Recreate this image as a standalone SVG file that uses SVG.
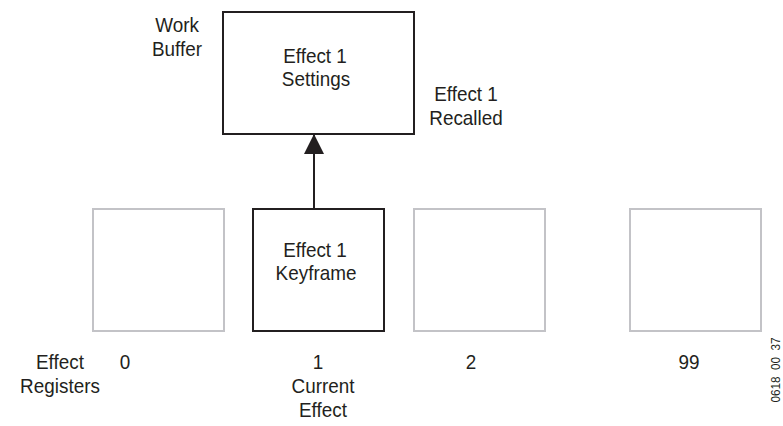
<svg xmlns="http://www.w3.org/2000/svg" width="783" height="426" viewBox="0 0 783 426">
<style>
text{font-family:"Liberation Sans",Arial,sans-serif;font-size:21px;fill:#231f20;text-anchor:middle}
.dark{fill:#fff;stroke:#231f20;stroke-width:2}
.gray{fill:#fff;stroke:#c3c3c7;stroke-width:2}
.conn{stroke:#231f20;stroke-width:2;fill:none}
</style>
<defs>
<marker id="ah" markerUnits="userSpaceOnUse" markerWidth="20" markerHeight="20" viewBox="0 0 20 20" refX="20" refY="10" orient="auto">
<path d="M0,0 L20,10 L0,20 Z" fill="#231f20"/>
</marker>
</defs>
<rect width="783" height="426" fill="#fff"/>
<g id="work-buffer-label"><text transform="translate(177,32) scale(0.9,1)">Work</text><text transform="translate(177,56) scale(0.9,1)">Buffer</text></g>
<g id="work-buffer"><rect class="dark" x="223" y="12" width="191" height="122"/><text transform="translate(315,63) scale(0.9,1)">Effect 1</text><text transform="translate(316,86) scale(0.9,1)">Settings</text></g>
<g id="recalled-label"><text transform="translate(466,101) scale(0.9,1)">Effect 1</text><text transform="translate(466,125) scale(0.9,1)">Recalled</text></g>
<g id="reg0"><rect class="gray" x="93" y="209" width="131" height="122"/><text transform="translate(125,369) scale(0.9,1)">0</text></g>
<g id="reg1"><rect class="dark" x="253" y="209" width="131" height="122"/><text transform="translate(315,257) scale(0.9,1)">Effect 1</text><text transform="translate(316,280) scale(0.9,1)">Keyframe</text><text transform="translate(318,369) scale(0.9,1)">1</text><text transform="translate(323,393) scale(0.9,1)">Current</text><text transform="translate(323,417) scale(0.9,1)">Effect</text></g>
<g id="reg2"><rect class="gray" x="414" y="209" width="131" height="122"/><text transform="translate(471,369) scale(0.9,1)">2</text></g>
<g id="reg99"><rect class="gray" x="630" y="209" width="131" height="122"/><text transform="translate(689,369) scale(0.9,1)">99</text></g>
<g id="registers-label"><text transform="translate(60,369) scale(0.9,1)">Effect</text><text transform="translate(60,393) scale(0.9,1)">Registers</text></g>
<g id="connectors"><line class="conn" x1="314" y1="209" x2="314" y2="134" marker-end="url(#ah)"/></g>
<text transform="translate(780,370) rotate(-90) scale(0.9,1)" style="font-size:13px" xml:space="preserve">0618  00  37</text>
</svg>
